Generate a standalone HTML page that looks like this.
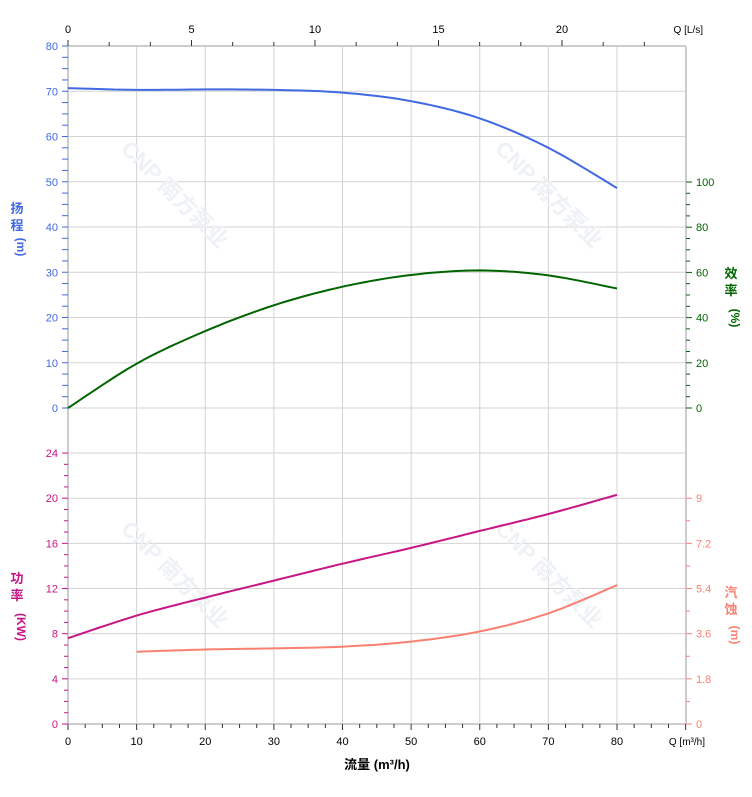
<!DOCTYPE html><html><head><meta charset="utf-8"><style>body{margin:0;background:#fff}svg{display:block;font-family:"Liberation Sans","Noto Sans CJK SC",sans-serif}</style></head><body>
<svg id="s" width="752" height="797" xmlns="http://www.w3.org/2000/svg"></svg>
<script>
const s=document.getElementById('s');let h='';
const X=q=>68+q*6.8625, YH=v=>408-v*4.525, YP=v=>724-v*11.29;
for(let i=0;i<=9;i++){let x=68+i*68.625;h+=`<line x1="${x}" y1="46" x2="${x}" y2="724" stroke="#d3d3d3"/>`;}
for(let v=0;v<=80;v+=10)h+=`<line x1="68" y1="${YH(v)}" x2="686" y2="${YH(v)}" stroke="#d3d3d3"/>`;
for(let v=0;v<=24;v+=4)h+=`<line x1="68" y1="${YP(v)}" x2="686" y2="${YP(v)}" stroke="#d3d3d3"/>`;
h+=`<line x1="68" y1="46" x2="68" y2="724" stroke="#ccc" stroke-width="2"/><line x1="686" y1="46" x2="686" y2="724" stroke="#ccc" stroke-width="2"/>`;
h+=`<line x1="68" y1="46" x2="686" y2="46" stroke="#ccc" stroke-width="2"/><line x1="68" y1="724" x2="686" y2="724" stroke="#ccc" stroke-width="2"/>`;
for(let v=0;v<=80;v+=2.5){let y=YH(v);h+=`<line x1="62" y1="${y}" x2="68" y2="${y}" stroke="#4169e1"/>`;if(v%10==0)h+=`<text x="58" y="${y+4}" font-size="11" fill="#4169e1" text-anchor="end">${v}</text>`;}
for(let v=0;v<=24;v+=1){let y=YP(v);h+=`<line x1="${v%4?64:62}" y1="${y}" x2="68" y2="${y}" stroke="#c71585"/>`;if(v%4==0)h+=`<text x="58" y="${y+4}" font-size="11" fill="#c71585" text-anchor="end">${v}</text>`;}
for(let v=0;v<=100;v+=5){let y=408-v*2.26;h+=`<line x1="686" y1="${y}" x2="${v%20?690:692}" y2="${y}" stroke="#006400"/>`;if(v%20==0)h+=`<text x="696" y="${y+4}" font-size="11" fill="#006400">${v}</text>`;}
for(let i=0;i<=10;i++){let v=i*0.9,y=724-v*25.09;h+=`<line x1="686" y1="${y}" x2="${i%2?690:692}" y2="${y}" stroke="#fa8072"/>`;if(i%2==0)h+=`<text x="696" y="${y+4}" font-size="11" fill="#fa8072">${+v.toFixed(1)}</text>`;}
for(let q=0;q<=90;q+=2.5){let x=X(q);h+=`<line x1="${x}" y1="724" x2="${x}" y2="${q%10?728:730}" stroke="#333"/>`;if(q%10==0&&q<90)h+=`<text x="${x}" y="745" font-size="11" fill="#000" text-anchor="middle">${q}</text>`;}
h+=`<text x="705" y="745" font-size="10" text-anchor="end">Q [m³/h]</text>`;
for(let l=0;l<=24;l+=5/3){let x=68+l*24.7;if(x>686)break;h+=`<line x1="${x}" y1="46" x2="${x}" y2="${Math.abs(l/5-Math.round(l/5))<.01?40:42}" stroke="#333"/>`;}
for(let l=0;l<=20;l+=5)h+=`<text x="${68+l*24.7}" y="33" font-size="11" text-anchor="middle">${l}</text>`;
h+=`<text x="703" y="33" font-size="10" text-anchor="end">Q [L/s]</text>`;
h+=`<text x="377" y="769" font-size="13" font-weight="bold" text-anchor="middle">流量 (m³/h)</text>`;
const vt=(x,y,t,c)=>{t.split('').forEach((ch,i)=>{h+=`<text x="${x}" y="${y+i*17}" font-size="13" font-weight="bold" fill="${c}" text-anchor="middle">${ch}</text>`});};
vt(17,213,'扬程',"#4169e1");h+=`<text x="17" y="247" font-size="12" font-weight="bold" fill="#4169e1" text-anchor="middle" transform="rotate(90 17 247)">(m)</text>`;
vt(17,583,'功率',"#c71585");h+=`<text x="17" y="627" font-size="12" font-weight="bold" fill="#c71585" text-anchor="middle" transform="rotate(90 17 627)">(KW)</text>`;
vt(731,278,'效率',"#006400");h+=`<text x="731" y="318" font-size="12" font-weight="bold" fill="#006400" text-anchor="middle" transform="rotate(90 731 318)">(%)</text>`;
vt(731,597,'汽蚀',"#fa8072");h+=`<text x="731" y="635" font-size="12" font-weight="bold" fill="#fa8072" text-anchor="middle" transform="rotate(90 731 635)">(m)</text>`;
[[120,150],[494,150],[120,530],[494,530]].forEach(([x,y])=>h+=`<text x="${x}" y="${y}" font-size="22" font-weight="bold" fill="#eef1f5" transform="rotate(45 ${x} ${y})">CNP 南方泵业</text>`);
const path=(pts,fy,c)=>{let d='';pts.forEach((p,i)=>{d+=(i?'L':'M')+X(p[0]).toFixed(1)+' '+fy(p[1]).toFixed(1)});h+=`<path d="${d}" fill="none" stroke="${c}" stroke-width="2"/>`;};
const interp=a=>{let r=[];for(let i=0;i<a.length-1;i++){for(let t=0;t<1;t+=.1){let p0=a[Math.max(i-1,0)],p1=a[i],p2=a[i+1],p3=a[Math.min(i+2,a.length-1)];const f=k=>.5*((2*p1[k])+(-p0[k]+p2[k])*t+(2*p0[k]-5*p1[k]+4*p2[k]-p3[k])*t*t+(-p0[k]+3*p1[k]-3*p2[k]+p3[k])*t*t*t);r.push([f(0),f(1)]);}}r.push(a[a.length-1]);return r;};
path(interp([[0,70.7],[10,70.3],[20,70.4],[30,70.3],[40,69.7],[50,67.8],[60,64],[70,57.5],[80,48.6]]),YH,"#4169e1");
path(interp([[0,0],[10,9.8],[20,17],[30,22.7],[40,26.8],[50,29.4],[60,30.4],[70,29.3],[80,26.4]]),YH,"#006400");
path(interp([[0,7.6],[10,9.6],[20,11.2],[30,12.7],[40,14.2],[50,15.6],[60,17.1],[70,18.6],[80,20.3]]),YP,"#c71585");
path(interp([[10,6.4],[20,6.6],[30,6.7],[40,6.85],[50,7.3],[60,8.2],[70,9.8],[80,12.3]]),YP,"#fa8072");
s.innerHTML=h;
</script></body></html>
